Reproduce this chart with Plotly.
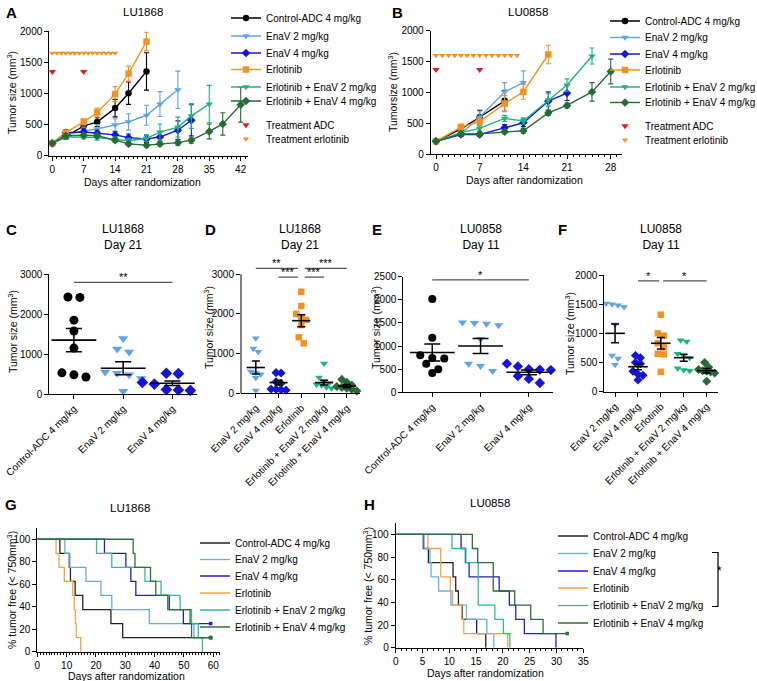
import plotly.graph_objects as go

W, H = 757, 681
FONT = "Liberation Sans, Arial, sans-serif"

# ---------------------------------------------------------------- data
groups = ["Control-ADC 4 mg/kg", "EnaV 2 mg/kg", "EnaV 4 mg/kg", "Erlotinib",
          "Erlotinib + EnaV 2 mg/kg", "Erlotinib + EnaV 4 mg/kg"]

# Panel A  LU1868 growth curves (mean, SEM)
a_days_ctrl = [0, 3, 7, 10, 14, 17, 21]
a_ctrl = [200, 305, 480, 540, 765, 1005, 1355]
a_ctrl_err = [15, 30, 70, 70, 140, 180, 300]
a_days_env2 = [0, 3, 7, 10, 14, 17, 21, 24, 28]
a_env2 = [200, 340, 400, 430, 495, 545, 650, 830, 1060]
a_env2_err = [15, 40, 60, 70, 100, 130, 160, 200, 300]
a_days_env4 = [0, 3, 7, 10, 14, 17, 21, 24, 28, 31]
a_env4 = [200, 370, 380, 360, 335, 290, 270, 300, 410, 570]
a_env4_err = [15, 50, 50, 50, 50, 60, 60, 80, 150, 250]
a_days_erl = [0, 3, 7, 10, 14, 17, 21]
a_erl = [200, 370, 545, 695, 990, 1320, 1835]
a_erl_err = [15, 40, 50, 70, 120, 120, 150]
a_days_ee2 = [0, 3, 7, 10, 14, 17, 21, 24, 28, 31, 35]
a_ee2 = [200, 300, 300, 290, 260, 240, 280, 380, 460, 640, 830]
a_ee2_err = [15, 30, 30, 40, 40, 40, 50, 130, 160, 200, 300]
a_days_ee4 = [0, 3, 7, 10, 14, 17, 21, 24, 28, 31, 35, 38, 42]
a_ee4 = [200, 320, 330, 320, 250, 190, 170, 190, 210, 250, 390, 510, 820]
a_ee4_err = [15, 30, 30, 30, 30, 30, 30, 30, 40, 50, 120, 180, 280]
a_adc_days = [0, 7]
a_adc_level = [1350, 1350]
a_erl_days = [0, 1, 2, 3, 4, 5, 6, 7, 8, 9, 10, 11, 12, 13, 14]
a_erl_level = [1650] * 15

# Panel B  LU0858 growth curves
b_days_ctrl = [0, 4, 7, 11]
b_ctrl = [210, 410, 600, 865]
b_ctrl_err = [15, 50, 110, 170]
b_days_env2 = [0, 4, 7, 11, 14]
b_env2 = [210, 330, 600, 1010, 1160]
b_env2_err = [15, 40, 100, 150, 190]
b_days_env4 = [0, 4, 7, 11, 14, 18, 21]
b_env4 = [210, 320, 320, 430, 510, 860, 990]
b_env4_err = [15, 30, 30, 50, 60, 150, 120]
b_days_erl = [0, 4, 7, 11, 14, 18]
b_erl = [210, 440, 530, 820, 1010, 1615]
b_erl_err = [15, 50, 60, 130, 120, 150]
b_days_ee2 = [0, 4, 7, 11, 14, 18, 21, 25]
b_ee2 = [210, 350, 420, 580, 540, 880, 1120, 1590]
b_ee2_err = [15, 30, 40, 50, 50, 100, 100, 130]
b_days_ee4 = [0, 4, 7, 11, 14, 18, 21, 25, 28]
b_ee4 = [210, 330, 330, 365, 380, 670, 790, 1010, 1340]
b_ee4_err = [15, 30, 30, 30, 40, 40, 40, 150, 200]
b_adc_days = [0, 7]
b_adc_level = [1370, 1370]
b_erl_days = [0, 1, 2, 3, 4, 5, 6, 7, 8, 9, 10, 11, 12, 13]
b_erl_level = [1600] * 14

# Panel C  LU1868 day 21 (individual tumors)
c_cats = ["Control-ADC 4 mg/kg", "EnaV 2 mg/kg", "EnaV 4 mg/kg"]
c_ctrl = [2430, 2420, 1850, 1580, 1150, 530, 480, 426]
c_env2 = [1390, 1130, 1050, 550, 520, 480, 390, 70]
c_env4 = [520, 510, 290, 250, 110, 100, 90, 80]
c_mean = [1350, 645, 270]
c_sem = [290, 165, 55]

# Panel D  LU1868 day 21
d_cats = ["EnaV 2 mg/kg", "EnaV 4 mg/kg", "Erlotinib",
          "Erlotinib + EnaV 2 mg/kg", "Erlotinib + EnaV 4 mg/kg"]
d_env2 = [1390, 1130, 1050, 550, 520, 480, 390, 70]
d_env4 = [520, 510, 290, 250, 110, 100, 90, 80]
d_erl = [2560, 2200, 2000, 1920, 1850, 1720, 1410, 1260]
d_ee2 = [750, 400, 300, 260, 220, 200, 150, 130]
d_ee4 = [350, 280, 200, 170, 150, 130, 100, 60]
d_mean = [650, 270, 1830, 270, 180]
d_sem = [165, 60, 150, 60, 40]

# Panel E  LU0858 day 11
e_cats = ["Control-ADC 4 mg/kg", "EnaV 2 mg/kg", "EnaV 4 mg/kg"]
e_ctrl = [2020, 1180, 800, 740, 730, 620, 500, 420]
e_env2 = [1510, 1500, 1480, 1450, 1150, 620, 570, 460]
e_env4 = [620, 560, 500, 490, 480, 350, 290, 200]
e_mean = [860, 1000, 432]
e_sem = [185, 162, 50]

# Panel F  LU0858 day 11
f_cats = ["EnaV 2 mg/kg", "EnaV 4 mg/kg", "Erlotinib",
          "Erlotinib + EnaV 2 mg/kg", "Erlotinib + EnaV 4 mg/kg"]
f_env2 = [1510, 1500, 1480, 1450, 1150, 620, 570, 460]
f_env4 = [620, 580, 500, 480, 350, 300, 280, 200]
f_erl = [1320, 1000, 960, 830, 760, 650, 640, 340]
f_ee2 = [880, 860, 650, 610, 580, 400, 370, 360]
f_ee4 = [500, 420, 380, 360, 350, 340, 320, 180]
f_mean = [1000, 428, 830, 583, 360]
f_sem = [160, 50, 100, 60, 38]

# Panel G  LU1868 Kaplan-Meier (% tumor free < 750 mm3)
g_t_ctrl = [0, 7.7, 10.9, 11.3, 12.9, 15.5, 25.1, 29.1, 59.1]
g_s_ctrl = [100, 87.5, 75, 62.5, 50, 37.5, 25, 12.5, 12.5]
g_t_env2 = [0, 9.4, 11.1, 16.6, 21.7, 25.4, 38.2, 53.4, 59.1]
g_s_env2 = [100, 87.5, 75, 62.5, 50, 37.5, 25, 12.5, 12.5]
g_t_env4 = [0, 22.9, 30.2, 31.9, 33.6, 45.0, 49.8, 59.1]
g_s_env4 = [100, 87.5, 75, 62.5, 50, 37.5, 25, 25]
g_t_erl = [0, 6.4, 7.4, 9.2, 12.1, 12.6, 13.0, 13.3, 14.8]
g_s_erl = [100, 87.5, 75, 62.5, 50, 37.5, 25, 12.5, 0]
g_t_ee2 = [0, 20.2, 25.4, 36.7, 42.2, 48.7, 52.6, 54.9, 56.3]
g_s_ee2 = [100, 87.5, 75, 62.5, 50, 37.5, 25, 12.5, 0]
g_t_ee4 = [0, 32.7, 33.3, 38.6, 40.4, 44.5, 52.1, 52.6, 59.1]
g_s_ee4 = [100, 87.5, 75, 62.5, 50, 37.5, 25, 12.5, 12.5]

# Panel H  LU0858 Kaplan-Meier
h_t_ctrl = [0, 5.15, 6.1, 10.7, 11.2, 11.7, 12.4, 15.1, 16.8]
h_s_ctrl = [100, 87.5, 75, 62.5, 50, 37.5, 25, 12.5, 0]
h_t_env2 = [0, 5.3, 6.4, 6.6, 8.0, 10.3, 13.2, 17.0, 18.3]
h_s_env2 = [100, 87.5, 75, 62.5, 50, 37.5, 25, 12.5, 0]
h_t_env4 = [0, 12.2, 13.0, 13.7, 19.3, 21.2, 22.4, 24.0, 29.9]
h_s_env4 = [100, 87.5, 75, 62.5, 50, 37.5, 25, 12.5, 0]
h_t_erl = [0, 6.0, 8.4, 8.4, 10.2, 10.6, 12.3, 12.7, 20.9]
h_s_erl = [100, 87.5, 75, 62.5, 50, 37.5, 25, 12.5, 0]
h_t_ee2 = [0, 10.5, 13.1, 15.4, 15.4, 18.5, 20.1, 21.3]
h_s_ee2 = [100, 87.5, 75, 62.5, 37.5, 25, 12.5, 0]
h_t_ee4 = [0, 14.3, 15.3, 18.2, 18.2, 22.2, 25.2, 27.5, 32.0]
h_s_ee4 = [100, 87.5, 75, 62.5, 50, 37.5, 25, 12.5, 12.5]

# ---------------------------------------------------------------- styles
COL = {
    "ctrl": "#000000", "env2": "#5FA3E8", "env4": "#1414D2", "erl": "#F39223",
    "ee2": "#1FB47E", "ee4": "#256B35", "adc": "#E0201E",
}
KMCOL = {
    "ctrl": "#222222", "env2": "#6AAAE8", "env4": "#2020C8", "erl": "#F4A24A",
    "ee2": "#2DBE8A", "ee4": "#2F6E3A",
}
SYM = {"ctrl": "circle", "env2": "triangle-down", "env4": "diamond", "erl": "square",
       "ee2": "triangle-down", "ee4": "diamond"}


def px_x(p):
    return p / W


def px_y(p):
    return 1 - p / H


# panel geometry in pixels: (left, right, top, bottom)
PANELS = {
    "A": dict(ax="", box=(49.3, 248.3, 31.3, 155.7), xr=[-0.67, 43.7], yr=[0, 2000]),
    "B": dict(ax="2", box=(430.7, 621.7, 30.7, 154.3), xr=[-0.85, 29.76], yr=[0, 2000]),
    "C": dict(ax="3", box=(49.3, 197.0, 274.3, 394.0), xr=[-0.5, 2.5], yr=[0, 3000]),
    "D": dict(ax="4", box=(241.0, 360.0, 258.4, 393.3), xr=[-0.65, 4.58], yr=[0, 3400]),
    "E": dict(ax="5", box=(403.3, 553.0, 276.7, 392.3), xr=[-0.6, 2.5], yr=[0, 2500]),
    "F": dict(ax="6", box=(604.3, 718.3, 275.0, 391.7), xr=[-0.47, 4.51], yr=[0, 2000]),
    "G": dict(ax="7", box=(37.3, 220.0, 528.0, 651.7), xr=[0, 62.3], yr=[0, 110]),
    "H": dict(ax="8", box=(395.7, 583.3, 523.0, 647.7), xr=[0, 35], yr=[0, 110]),
}

# legend layout: text start x and row centres (pixels) for each panel's legend
LEGEND_POS = {
    "A": (266, [18, 36, 53, 69.5, 87, 101, 125, 139]),
    "B": (645, [21, 37.5, 54, 70, 87, 102.5, 126, 140]),
    "G": (235, [543, 559.5, 576, 593, 610, 627]),
    "H": (593, [536, 553.5, 571, 588, 605.5, 623]),
}
LEGFONT = dict(family=FONT, size=10, color="black")
legends = {}


def legend_for(panel, row):
    """Each legend row is its own plotly legend so rows can sit at the reference spacing."""
    n = len(legends)
    lid = "legend" if n == 0 else "legend%d" % (n + 1)
    xt, rows = LEGEND_POS[panel]
    legends[lid] = dict(x=px_x(xt - 40), y=px_y(rows[row] - 14.5), xanchor="left",
                        yanchor="top", font=LEGFONT, bgcolor="rgba(0,0,0,0)",
                        borderwidth=0, tracegroupgap=0, itemclick=False,
                        itemdoubleclick=False)
    return lid


fig = go.Figure()


def refs(p):
    a = PANELS[p]["ax"]
    return "x" + a, "y" + a


def add_growth(p, days, vals, err, key, row):
    xr, yr = refs(p)
    fig.add_trace(go.Scatter(
        x=days, y=vals, mode="lines+markers", name=groups[list(COL).index(key)],
        line=dict(color=COL[key], width=1.4),
        marker=dict(color=COL[key], symbol=SYM[key], size=6.5),
        error_y=dict(type="data", array=err, visible=True, color=COL[key],
                     thickness=1.1, width=2.5),
        xaxis=xr, yaxis=yr, legend=legend_for(p, row), cliponaxis=False))


def add_treat(p, days, level, color, name, row, size):
    xr, yr = refs(p)
    fig.add_trace(go.Scatter(
        x=days, y=level, mode="markers", name=name,
        marker=dict(color=color, symbol="triangle-down", size=size),
        xaxis=xr, yaxis=yr, legend=legend_for(p, row), cliponaxis=False))


# A
add_growth("A", a_days_ctrl, a_ctrl, a_ctrl_err, "ctrl", 0)
add_growth("A", a_days_env2, a_env2, a_env2_err, "env2", 1)
add_growth("A", a_days_env4, a_env4, a_env4_err, "env4", 2)
add_growth("A", a_days_erl, a_erl, a_erl_err, "erl", 3)
add_growth("A", a_days_ee2, a_ee2, a_ee2_err, "ee2", 4)
add_growth("A", a_days_ee4, a_ee4, a_ee4_err, "ee4", 5)
add_treat("A", a_adc_days, a_adc_level, COL["adc"], "Treatment ADC", 6, 6.5)
add_treat("A", a_erl_days, a_erl_level, COL["erl"], "Treatment erlotinib", 7, 5.5)

# B
add_growth("B", b_days_ctrl, b_ctrl, b_ctrl_err, "ctrl", 0)
add_growth("B", b_days_env2, b_env2, b_env2_err, "env2", 1)
add_growth("B", b_days_env4, b_env4, b_env4_err, "env4", 2)
add_growth("B", b_days_erl, b_erl, b_erl_err, "erl", 3)
add_growth("B", b_days_ee2, b_ee2, b_ee2_err, "ee2", 4)
add_growth("B", b_days_ee4, b_ee4, b_ee4_err, "ee4", 5)
add_treat("B", b_adc_days, b_adc_level, COL["adc"], "Treatment ADC", 6, 6.5)
add_treat("B", b_erl_days, b_erl_level, COL["erl"], "Treatment erlotinib", 7, 5.5)


# ---------- dot plots with beeswarm layout
def swarm(values, p, diam, step):
    """Deterministic horizontal spreading of points with similar values."""
    l, r, t, b = PANELS[p]["box"]
    unit_px = (b - t) / (PANELS[p]["yr"][1] - PANELS[p]["yr"][0])
    cat_px = (r - l) / (PANELS[p]["xr"][1] - PANELS[p]["xr"][0])
    order = sorted(range(len(values)), key=lambda i: -values[i])
    rows = []
    for i in order:
        if rows and abs(values[rows[-1][0]] - values[i]) * unit_px < diam:
            rows[-1].append(i)
        else:
            rows.append([i])
    off = [0.0] * len(values)
    for row in rows:
        n = len(row)
        row_sorted = sorted(row)
        for j, i in enumerate(row_sorted):
            off[i] = (j - (n - 1) / 2) * step / cat_px
    return off


def add_dots(p, idx, values, key, size, diam, step):
    xr, yr = refs(p)
    off = swarm(values, p, diam, step)
    fig.add_trace(go.Scatter(
        x=[idx + o for o in off], y=values, mode="markers",
        marker=dict(color=COL[key], symbol=SYM[key], size=size),
        xaxis=xr, yaxis=yr, showlegend=False, cliponaxis=False))


def add_mean(p, means, sems, wline, wcap):
    xr, yr = refs(p)
    fig.add_trace(go.Scatter(
        x=list(range(len(means))), y=means, mode="markers",
        marker=dict(symbol="line-ew", size=wline, color="black",
                    line=dict(color="black", width=1.6)),
        error_y=dict(type="data", array=sems, visible=True, color="black",
                     thickness=1.5, width=wcap),
        xaxis=xr, yaxis=yr, showlegend=False, cliponaxis=False))


add_dots("C", 0, c_ctrl, "ctrl", 9, 9, 12)
add_dots("C", 1, c_env2, "env2", 9, 9, 12)
add_dots("C", 2, c_env4, "env4", 9, 9, 12)
add_mean("C", c_mean, c_sem, 32, 8)

add_dots("D", 0, d_env2, "env2", 7, 6, 5)
add_dots("D", 1, d_env4, "env4", 7, 6, 5)
add_dots("D", 2, d_erl, "erl", 6.5, 6, 5)
add_dots("D", 3, d_ee2, "ee2", 7, 6, 5)
add_dots("D", 4, d_ee4, "ee4", 7, 6, 5)
add_mean("D", d_mean, d_sem, 13, 4)

add_dots("E", 0, e_ctrl, "ctrl", 8, 8, 12)
add_dots("E", 1, e_env2, "env2", 8, 8, 12)
add_dots("E", 2, e_env4, "env4", 8, 8, 11)
add_mean("E", e_mean, e_sem, 32, 8)

add_dots("F", 0, f_env2, "env2", 7, 6, 6)
add_dots("F", 1, f_env4, "env4", 7, 6, 5)
add_dots("F", 2, f_erl, "erl", 6.5, 6, 6)
add_dots("F", 3, f_ee2, "ee2", 7, 6, 6)
add_dots("F", 4, f_ee4, "ee4", 7, 6, 4)
add_mean("F", f_mean, f_sem, 14, 4)


# ---------- Kaplan-Meier
def add_km(p, t, s, key, row):
    xr, yr = refs(p)
    fig.add_trace(go.Scatter(
        x=t, y=s, mode="lines", line=dict(color=KMCOL[key], width=1.3, shape="hv"),
        name=groups[list(KMCOL).index(key)], xaxis=xr, yaxis=yr,
        legend=legend_for(p, row), cliponaxis=False))
    if s[-1] > 0:
        fig.add_trace(go.Scatter(
            x=[t[-1]], y=[s[-1]], mode="markers",
            marker=dict(color=KMCOL[key], symbol="square", size=3.5),
            xaxis=xr, yaxis=yr, showlegend=False, cliponaxis=False))


add_km("G", g_t_ctrl, g_s_ctrl, "ctrl", 0)
add_km("G", g_t_env2, g_s_env2, "env2", 1)
add_km("G", g_t_env4, g_s_env4, "env4", 2)
add_km("G", g_t_erl, g_s_erl, "erl", 3)
add_km("G", g_t_ee2, g_s_ee2, "ee2", 4)
add_km("G", g_t_ee4, g_s_ee4, "ee4", 5)

add_km("H", h_t_ctrl, h_s_ctrl, "ctrl", 0)
add_km("H", h_t_env2, h_s_env2, "env2", 1)
add_km("H", h_t_env4, h_s_env4, "env4", 2)
add_km("H", h_t_erl, h_s_erl, "erl", 3)
add_km("H", h_t_ee2, h_s_ee2, "ee2", 4)
add_km("H", h_t_ee4, h_s_ee4, "ee4", 5)

# ---------------------------------------------------------------- axes
TICKFONT = dict(family=FONT, size=10, color="black")


def base_axis():
    return dict(showline=True, linecolor="black", linewidth=1, ticks="outside",
                ticklen=4, tickwidth=1, tickcolor="black", showgrid=False,
                zeroline=False, tickfont=TICKFONT, fixedrange=True, automargin=False)


layout_axes = {}
for p, cfg in PANELS.items():
    a = cfg["ax"]
    l, r, t, b = cfg["box"]
    xa = base_axis()
    ya = base_axis()
    xa.update(domain=[px_x(l), px_x(r)], range=cfg["xr"], anchor="y" + a)
    ya.update(domain=[px_y(b), px_y(t)], range=cfg["yr"], anchor="x" + a)
    layout_axes["xaxis" + a] = xa
    layout_axes["yaxis" + a] = ya

minor_day = dict(dtick=1, ticks="outside", ticklen=2, tickcolor="black", tickwidth=1)
layout_axes["xaxis"].update(tick0=0, dtick=7, minor=minor_day)
layout_axes["yaxis"].update(tick0=0, dtick=500)
layout_axes["xaxis2"].update(tick0=0, dtick=7, minor=minor_day)
layout_axes["yaxis2"].update(tick0=0, dtick=500)
layout_axes["xaxis3"].update(tickvals=[0, 1, 2], ticktext=c_cats, tickangle=-45)
layout_axes["yaxis3"].update(tick0=0, dtick=1000)
layout_axes["xaxis4"].update(tickvals=[0, 1, 2, 3, 4], ticktext=d_cats, tickangle=-45)
layout_axes["yaxis4"].update(tickvals=[0, 1000, 2000, 3000], showline=False)
layout_axes["xaxis5"].update(tickvals=[0, 1, 2], ticktext=e_cats, tickangle=-45)
layout_axes["yaxis5"].update(tick0=0, dtick=500)
layout_axes["xaxis6"].update(tickvals=[0, 1, 2, 3, 4], ticktext=f_cats, tickangle=-45)
layout_axes["yaxis6"].update(tick0=0, dtick=500)
layout_axes["xaxis7"].update(tick0=0, dtick=10, minor=minor_day)
layout_axes["yaxis7"].update(tickvals=[0, 20, 40, 60, 80, 100])
layout_axes["xaxis8"].update(tick0=0, dtick=5, minor=minor_day)
layout_axes["yaxis8"].update(tickvals=[0, 20, 40, 60, 80, 100])

# ---------------------------------------------------------------- shapes
shapes = [
    # y axis line of panel D (stops at top tick)
    dict(type="line", xref="x4 domain", yref="y4", x0=0, x1=0, y0=0, y1=3000,
         line=dict(color="black", width=1)),
]
SIG = dict(color="#555555", width=1.2)
# (panel, x0, x1, y, text)
sig_bars = [
    ("C", 0, 2, 2800, "**"),
    ("D", 0, 1.85, 3150, "**"),
    ("D", 1, 1.85, 2930, "***"),
    ("D", 2.15, 3, 2930, "***"),
    ("D", 2.15, 4, 3150, "***"),
    ("E", 0, 2, 2430, "*"),
    ("F", 1, 1.93, 1900, "*"),
    ("F", 2.1, 4, 1900, "*"),
]
annotations = []
for p, x0, x1, yv, txt in sig_bars:
    xr, yr = refs(p)
    shapes.append(dict(type="line", xref=xr, yref=yr, x0=x0, x1=x1, y0=yv, y1=yv, line=SIG))
    annotations.append(dict(xref=xr, yref=yr, x=(x0 + x1) / 2, y=yv, text=txt,
                            showarrow=False, yanchor="bottom", yshift=-3,
                            font=dict(family=FONT, size=11, color="black")))

# bracket next to legend of panel H (EnaV 2 vs Erlotinib + EnaV 2)
hb_top = LEGEND_POS["H"][1][1] - 1
hb_bot = LEGEND_POS["H"][1][4] + 1
shapes.append(dict(type="path", xref="paper", yref="paper",
                   path="M %f %f L %f %f L %f %f L %f %f" % (
                       px_x(712), px_y(hb_top), px_x(718), px_y(hb_top),
                       px_x(718), px_y(hb_bot), px_x(712), px_y(hb_bot)),
                   line=dict(color="black", width=1.2)))
annotations.append(dict(xref="paper", yref="paper", x=px_x(724),
                        y=px_y((hb_top + hb_bot) / 2), text="*",
                        showarrow=False, font=dict(family=FONT, size=12, color="black")))


def text_at(x, y, txt, size=10.5, bold=False, angle=0, xanchor="center"):
    annotations.append(dict(
        xref="paper", yref="paper", x=px_x(x), y=px_y(y),
        text=("<b>%s</b>" % txt) if bold else txt, showarrow=False, textangle=angle,
        xanchor=xanchor, yanchor="middle",
        font=dict(family=FONT, size=size, color="black")))


# panel letters
for letter, (lx, ly) in {"A": (11, 12), "B": (397, 12), "C": (11, 230), "D": (210, 230),
                         "E": (377, 230), "F": (562, 230), "G": (11, 504),
                         "H": (369, 504)}.items():
    text_at(lx, ly, letter, size=15, bold=True)

# titles
text_at(143, 12, "LU1868", size=11.5)
text_at(528, 12, "LU0858", size=11.5)
text_at(123, 237, "LU1868<br>Day 21", size=12)
text_at(300, 237, "LU1868<br>Day 21", size=12)
text_at(481, 237, "LU0858<br>Day 11", size=12)
text_at(661, 237, "LU0858<br>Day 11", size=12)
text_at(130, 508, "LU1868", size=11.5)
text_at(490, 503, "LU0858", size=11.5)

# axis titles
YT = "Tumor size (mm<sup>3</sup>)"
text_at(12, 93, YT, angle=-90)
text_at(393, 92, "Tumorsize (mm<sup>3</sup>)", angle=-90)
text_at(12, 332, YT, angle=-90)
text_at(208, 328, YT, angle=-90)
text_at(375, 328, YT, angle=-90)
text_at(569, 334, YT, angle=-90)
KMT = "% tumor free (&lt; 750mm<sup>3</sup>)"
text_at(11, 590, KMT, angle=-90)
text_at(367, 586, KMT, angle=-90)
text_at(142, 182, "Days after randomization")
text_at(524, 180, "Days after randomization")
text_at(126, 675.5, "Days after randomization")
text_at(485, 673, "Days after randomization")

fig.update_layout(
    width=W, height=H, margin=dict(l=0, r=0, t=0, b=0, autoexpand=False),
    paper_bgcolor="white", plot_bgcolor="white",
    font=dict(family=FONT, size=10, color="black"),
    showlegend=True,
    shapes=shapes, annotations=annotations,
    **legends,
    **layout_axes,
)

fig.write_html("out.html", config={"displayModeBar": False},
               post_script="document.body.style.margin='0';"
                           "document.body.style.overflow='hidden';")
